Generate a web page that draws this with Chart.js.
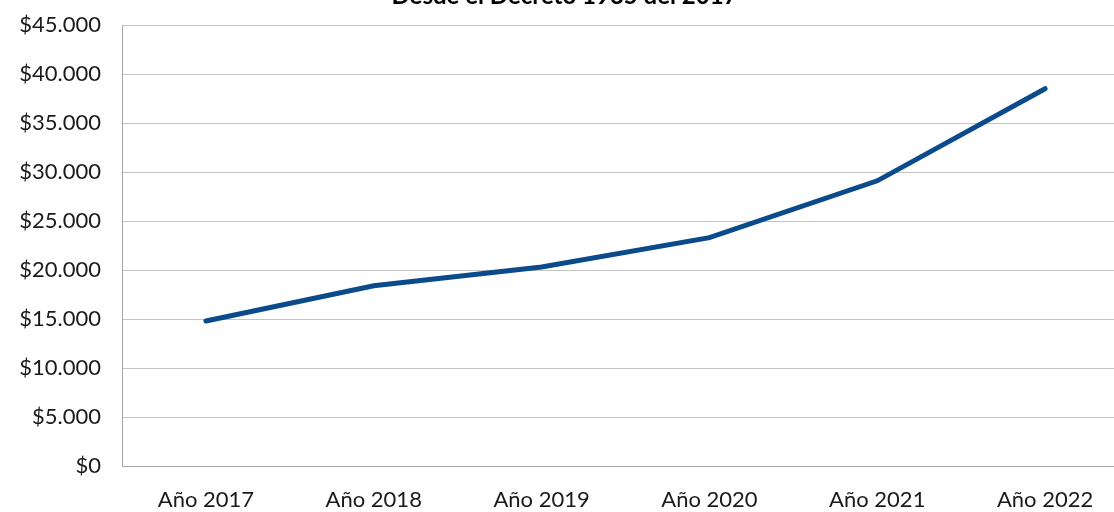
<!DOCTYPE html>
<html>
<head>
<meta charset="utf-8">
<script src="https://cdn.jsdelivr.net/npm/chart.js@4"></script>
<style>
html,body{margin:0;padding:0;background:#fff;overflow:hidden;width:1114px;height:512px;}
#wrap{position:absolute;left:0;top:-18px;width:1129px;height:530px;}
</style>
</head>
<body>
<div id="wrap"><canvas id="c"></canvas></div>
<script>
const titleText = "Desde el Decreto 1935 del 2017";
const categories = ["Año 2017","Año 2018","Año 2019","Año 2020","Año 2021","Año 2022"];
const values = [14800, 18400, 20300, 23300, 29100, 38500];
const yMin = 0, yMax = 45000, yStep = 5000;

function fmt(v){
  return "$" + v.toString().replace(/\B(?=(\d{3})+(?!\d))/g, ".");
}

new Chart(document.getElementById('c'), {
  type: 'line',
  data: {
    labels: categories,
    datasets: [{
      data: values,
      borderColor: '#0B4A8B',
      borderWidth: 5,
      pointRadius: 0,
      tension: 0,
      fill: false,
      borderCapStyle: 'round'
    }]
  },
  options: {
    responsive: true,
    maintainAspectRatio: false,
    animation: false,
    layout: {padding: {left: 0, right: 0, top: 0, bottom: 0}},
    plugins: {
      legend: {display: false},
      tooltip: {enabled: false},
      title: {
        display: true,
        text: titleText,
        color: '#000',
        font: {family: 'Lato', size: 24, weight: 'bold'},
        padding: {top: 0, bottom: 14.2}
      }
    },
    scales: {
      x: {
        offset: true,
        grid: {display: false, drawTicks: false},
        border: {display: true, color: '#A6A6A6', width: 1},
        ticks: {color: '#1a1a1a', font: {family: 'Lato', size: 22}, padding: 21, maxRotation: 0},
        afterFit: s => { s.height = 46; }
      },
      y: {
        min: yMin, max: yMax,
        grid: {color: '#C4C4C4', lineWidth: 1, drawTicks: false},
        border: {display: true, color: '#A6A6A6', width: 1},
        ticks: {stepSize: yStep, color: '#1a1a1a', font: {family: 'Lato', size: 22}, padding: 21, callback: v => fmt(v)},
        afterFit: s => { s.width = 122; }
      }
    }
  }
});
</script>
</body>
</html>
